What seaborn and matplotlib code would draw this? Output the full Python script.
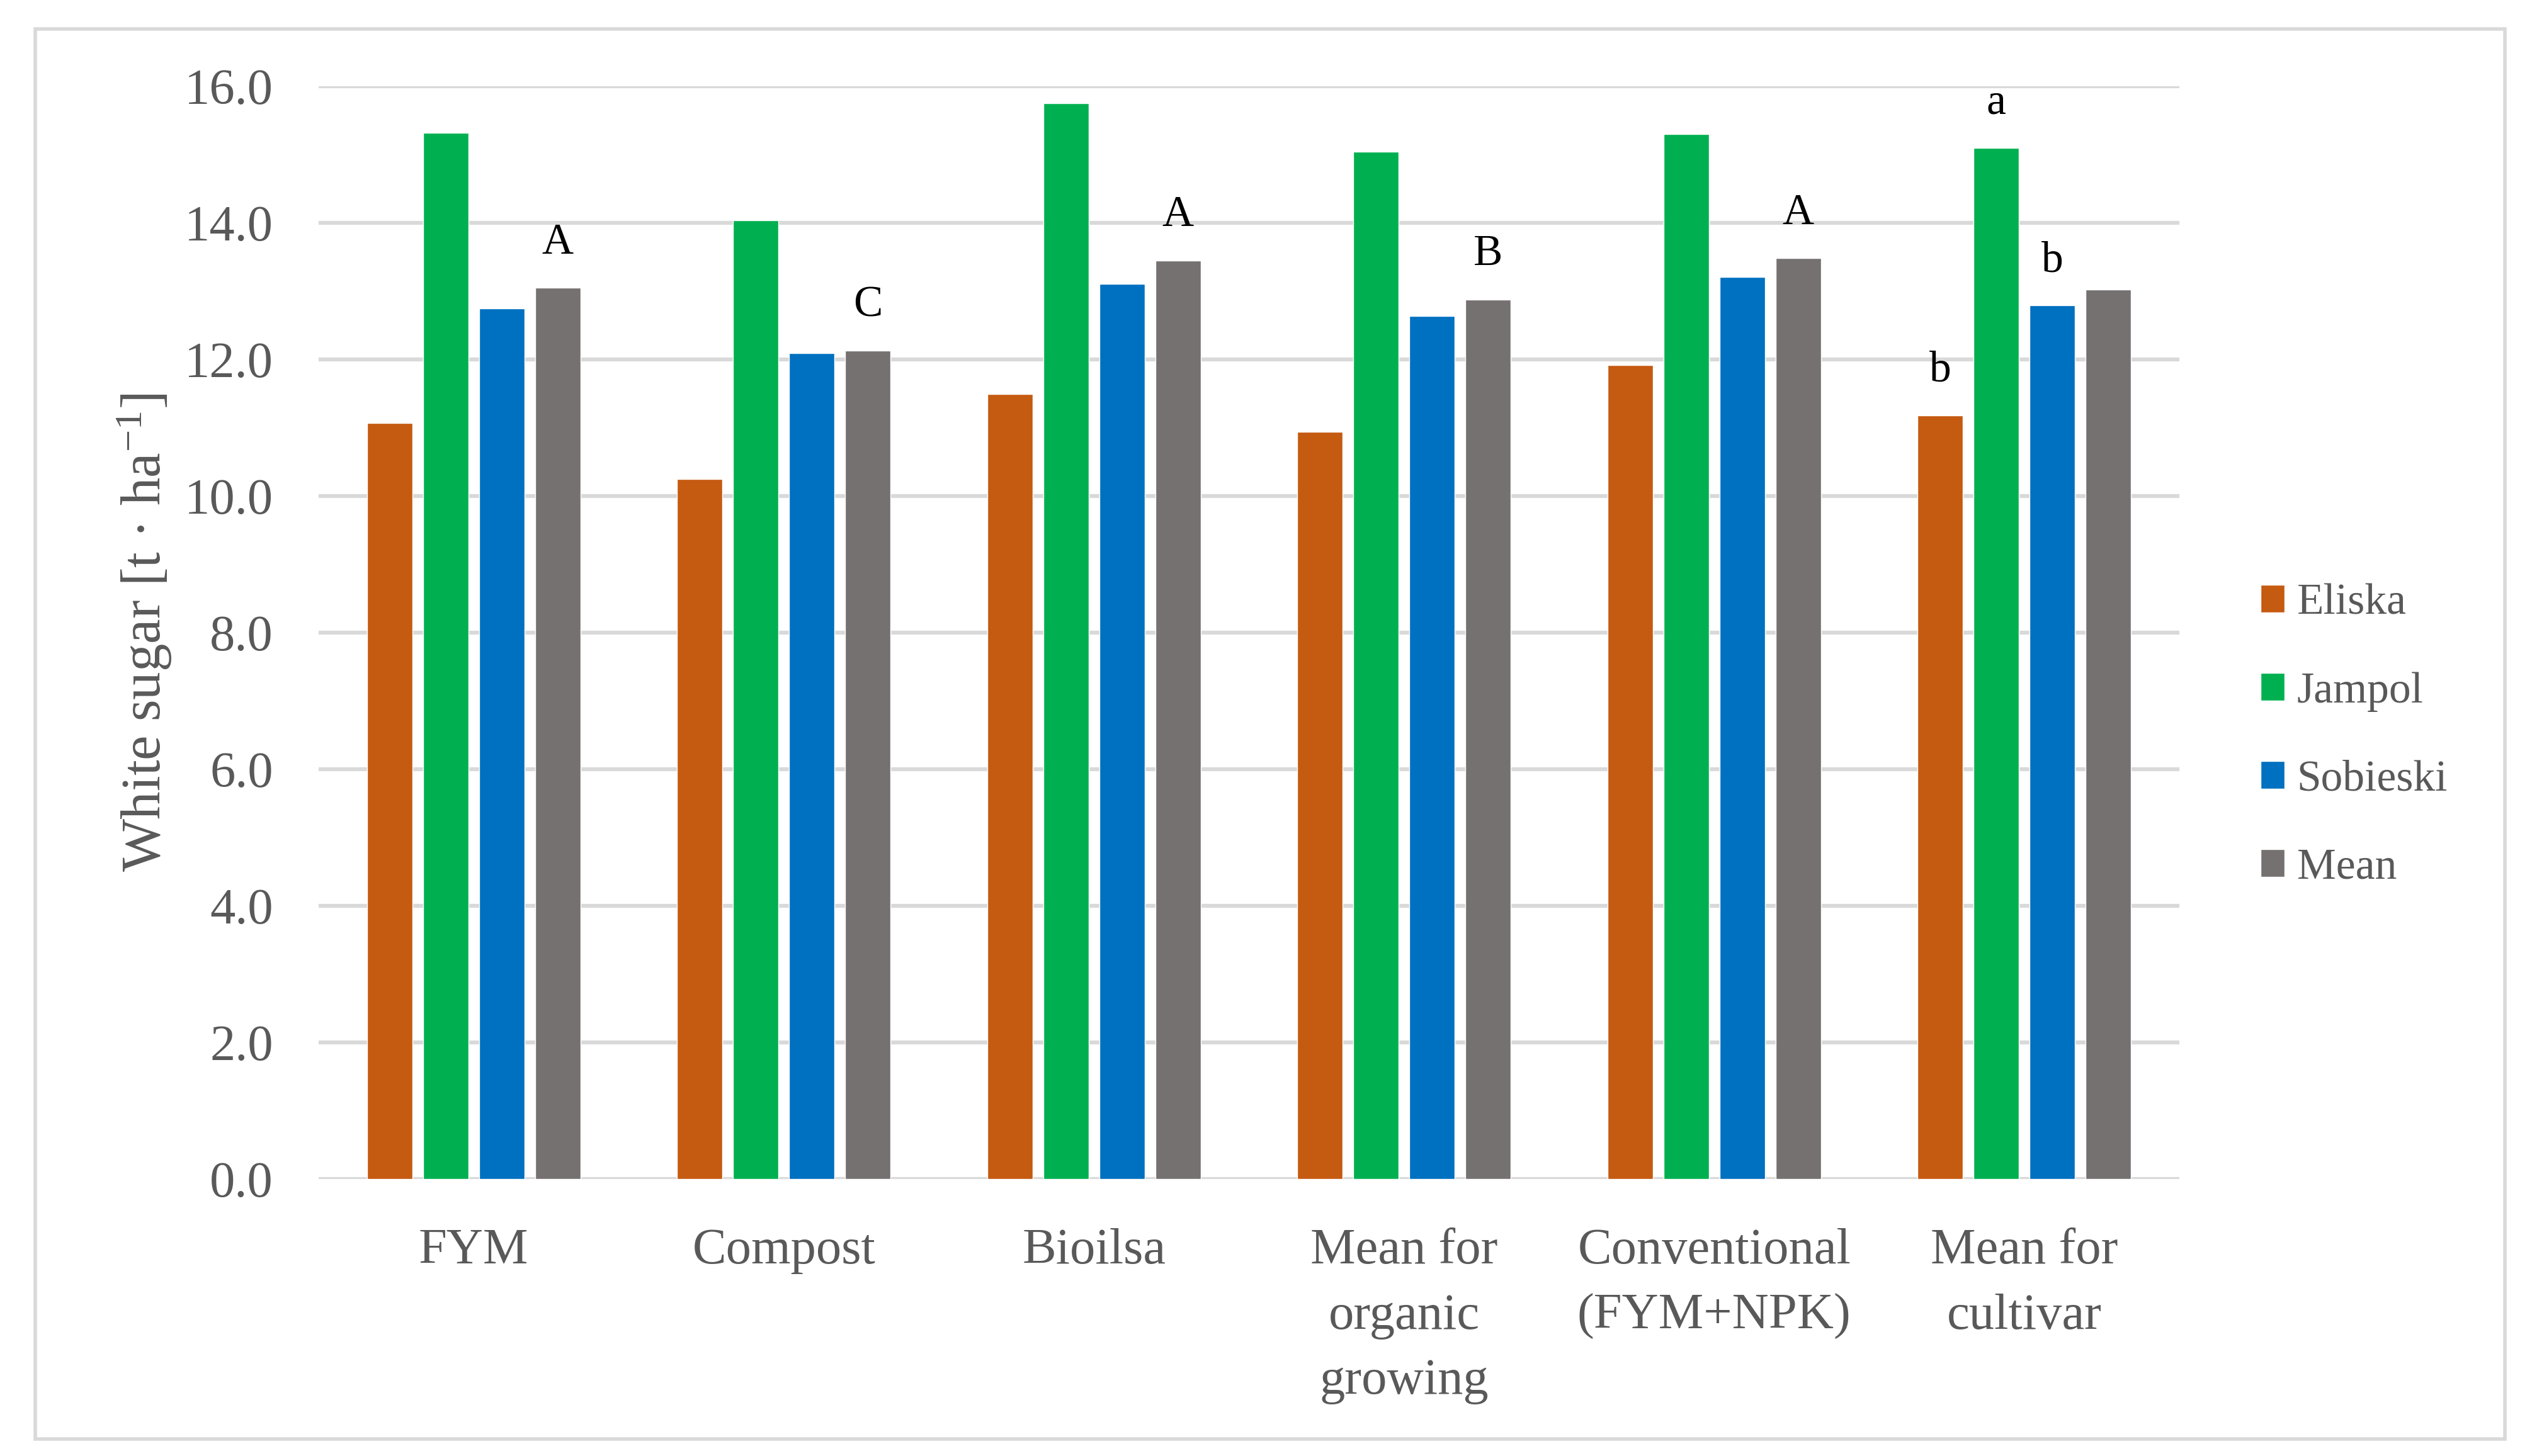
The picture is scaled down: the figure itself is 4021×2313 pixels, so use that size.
import matplotlib
matplotlib.use("Agg")
import matplotlib.pyplot as plt
import seaborn as sns
import pandas as pd
from matplotlib.patches import Rectangle

treatments = ["FYM", "Compost", "Bioilsa", "Mean for\norganic\ngrowing",
              "Conventional\n(FYM+NPK)", "Mean for\ncultivar"]
cultivars = ["Eliska", "Jampol", "Sobieski", "Mean"]
eliska = [11.07, 10.25, 11.49, 10.94, 11.92, 11.18]
jampol = [15.32, 14.04, 15.75, 15.04, 15.30, 15.10]
sobieski = [12.75, 12.09, 13.11, 12.64, 13.21, 12.79]
mean = [13.05, 12.13, 13.45, 12.88, 13.48, 13.02]
mean_letters = ["A", "C", "A", "B", "A", ""]
cultivar_letters = ["b", "a", "b", ""]  # for "Mean for cultivar" group
colors = ["#C55A11", "#00B050", "#0070C0", "#767171"]
yticks = [0, 2, 4, 6, 8, 10, 12, 14, 16]

rows = []
for name, vals in zip(cultivars, [eliska, jampol, sobieski, mean]):
    for t, v in zip(treatments, vals):
        rows.append({"treatment": t, "cultivar": name, "value": v})
df = pd.DataFrame(rows)

sns.set_theme(style="white")
plt.rcParams["font.family"] = ["Liberation Serif", "DejaVu Serif"]
plt.rcParams["mathtext.fontset"] = "custom"
plt.rcParams["mathtext.rm"] = "Liberation Serif"
plt.rcParams["mathtext.it"] = "Liberation Serif:italic"

W, H = 4021, 2313
fig = plt.figure(figsize=(W / 100, H / 100), dpi=100)
ax = fig.add_axes([506 / W, 1 - 1873 / H, (3461 - 506) / W, (1873 - 137) / H])

sns.barplot(data=df, x="treatment", y="value", hue="cultivar",
            hue_order=cultivars, order=treatments, palette=colors,
            width=0.723, gap=0.19, saturation=1, ax=ax, zorder=3)

ax.set_ylim(0, 16)
ax.set_yticks(yticks)
ax.set_yticklabels([f"{v:.1f}" for v in yticks])
ax.grid(axis="y", color="#D9D9D9", linewidth=4.5, zorder=0)
ax.grid(axis="x", visible=False)
ax.set_axisbelow(True)
for s in ax.spines.values():
    s.set_visible(False)
ax.tick_params(axis="y", length=0, pad=52, labelsize=58, labelcolor="#595959")
ax.tick_params(axis="x", length=0, pad=56, labelsize=58, labelcolor="#595959")
for lbl in ax.get_xticklabels():
    lbl.set_linespacing(1.55)
ax.set_xlabel("")
ax.set_ylabel("White sugar [t · ha$^{\\mathregular{-1}}$]", fontsize=64, color="#595959")
ax.yaxis.set_label_coords(-0.078, 0.5)

# annotations
cont_mean = ax.containers[3]
for i, letter in enumerate(mean_letters):
    if letter:
        p = cont_mean[i]
        ax.text(p.get_x() + p.get_width() / 2, p.get_height() + 0.5, letter,
                ha="center", va="baseline", fontsize=50, color="black")
last = len(treatments) - 1
for k, letter in enumerate(cultivar_letters):
    if letter:
        p = ax.containers[k][last]
        ax.text(p.get_x() + p.get_width() / 2, p.get_height() + 0.5, letter,
                ha="center", va="baseline", fontsize=50, color="black")

handles, labels = ax.get_legend_handles_labels()
if ax.get_legend() is not None:
    ax.get_legend().remove()
leg = fig.legend(handles, labels, loc="center left",
                 bbox_to_anchor=(3590 / W, 1 - 1169 / H), frameon=False,
                 fontsize=50, labelcolor="#595959", handlelength=0.55,
                 handleheight=0.6, handletextpad=0.28, labelspacing=1.1,
                 borderpad=0, borderaxespad=0)

fig.patches.append(Rectangle((56 / W, 1 - 2286 / H), (3978 - 56) / W, (2286 - 46) / H,
                             transform=fig.transFigure, fill=False,
                             edgecolor="#D9D9D9", linewidth=4))

fig.savefig("out.png", dpi=100, facecolor="white")
